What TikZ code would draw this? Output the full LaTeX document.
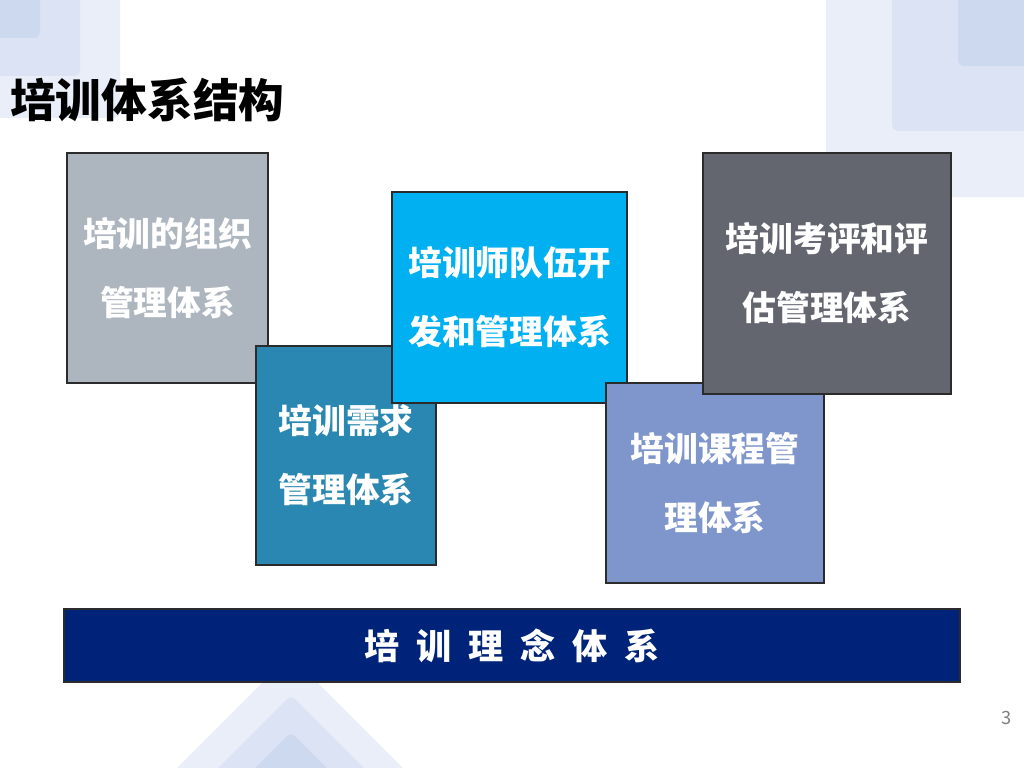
\documentclass[tikz,border=0pt]{standalone}
\usepackage{fontspec}
\newfontfamily\cjk{Noto Sans CJK SC}
\definecolor{bgone}{HTML}{E9EEF8}
\definecolor{bgtwo}{HTML}{DBE3F4}
\definecolor{bgthree}{HTML}{CDD9EF}
\definecolor{boxline}{HTML}{2B2B2B}
\definecolor{orggray}{HTML}{ADB5BE}
\definecolor{needteal}{HTML}{2A87B1}
\definecolor{teachcyan}{HTML}{00B0F0}
\definecolor{coursblue}{HTML}{7F96CC}
\definecolor{evaldark}{HTML}{63666F}
\definecolor{ideanavy}{HTML}{00237A}
\newdimen\px \px=0.025cm

\begin{document}
\begin{tikzpicture}[x=0.025cm, y=-0.025cm,
    box/.style={draw=boxline, line width=1pt, text=white, align=center, inner sep=0pt,
        font=\cjk\bfseries\fontsize{24}{49}\selectfont}]
    \useasboundingbox (0,0) rectangle (1024,768);
    % background squares and chevrons
    \begin{scope}
        \clip (0,0) rectangle (1024,768);
        \fill[white] (0,0) rectangle (1024,768);
        \fill[bgone, rounded corners=4pt] (-20,-20) rectangle (120,118);
        \fill[bgtwo, rounded corners=4pt] (-20,-20) rectangle (80,76);
        \fill[bgthree, rounded corners=4pt] (-20,-20) rectangle (40,38);
        \fill[bgone, rounded corners=4pt] (826,-20) rectangle (1044,197);
        \fill[bgtwo, rounded corners=4pt] (892,-20) rectangle (1044,131);
        \fill[bgthree, rounded corners=4pt] (958,-20) rectangle (1044,66);
        \fill[bgone, rounded corners=4pt] (290,655) -- (440,805) -- (140,805) -- cycle;
        \fill[bgtwo, rounded corners=4pt] (291,695) -- (401,805) -- (181,805) -- cycle;
        \fill[bgthree, rounded corners=4pt] (291,732) -- (364,805) -- (218,805) -- cycle;
    \end{scope}

    \node[anchor=west, inner sep=0pt, font=\cjk\bfseries\fontsize{32.5}{36}\selectfont] (title) at (10,100) {培训体系结构};

    \node[box, fill=orggray, minimum width=201\px, minimum height=230\px] (org) at (167.5,268) {培训的组织\\管理体系};
    \node[box, fill=needteal, minimum width=180\px, minimum height=219\px] (need) at (346,455.5) {培训需求\\管理体系};
    \node[box, fill=teachcyan, minimum width=235\px, minimum height=211\px] (teach) at (509.5,297.5) {培训师队伍开\\发和管理体系};
    \node[box, fill=coursblue, minimum width=218\px, minimum height=200\px] (course) at (715,483) {培训课程管\\理体系};
    \node[box, fill=evaldark, minimum width=248\px, minimum height=241\px] (eval) at (827,273.5) {培训考评和评\\估管理体系};

    \node[box, fill=ideanavy, minimum width=896\px, minimum height=73\px, font=\cjk\bfseries\fontsize{25}{30}\selectfont] (idea) at (512,645.5)
        {培\hspace{12pt}训\hspace{12pt}理\hspace{12pt}念\hspace{12pt}体\hspace{12pt}系};

    \node[text=black!50, inner sep=0pt, font=\cjk\fontsize{13}{15}\selectfont] (page) at (1007,718) {3};
\end{tikzpicture}
\end{document}
